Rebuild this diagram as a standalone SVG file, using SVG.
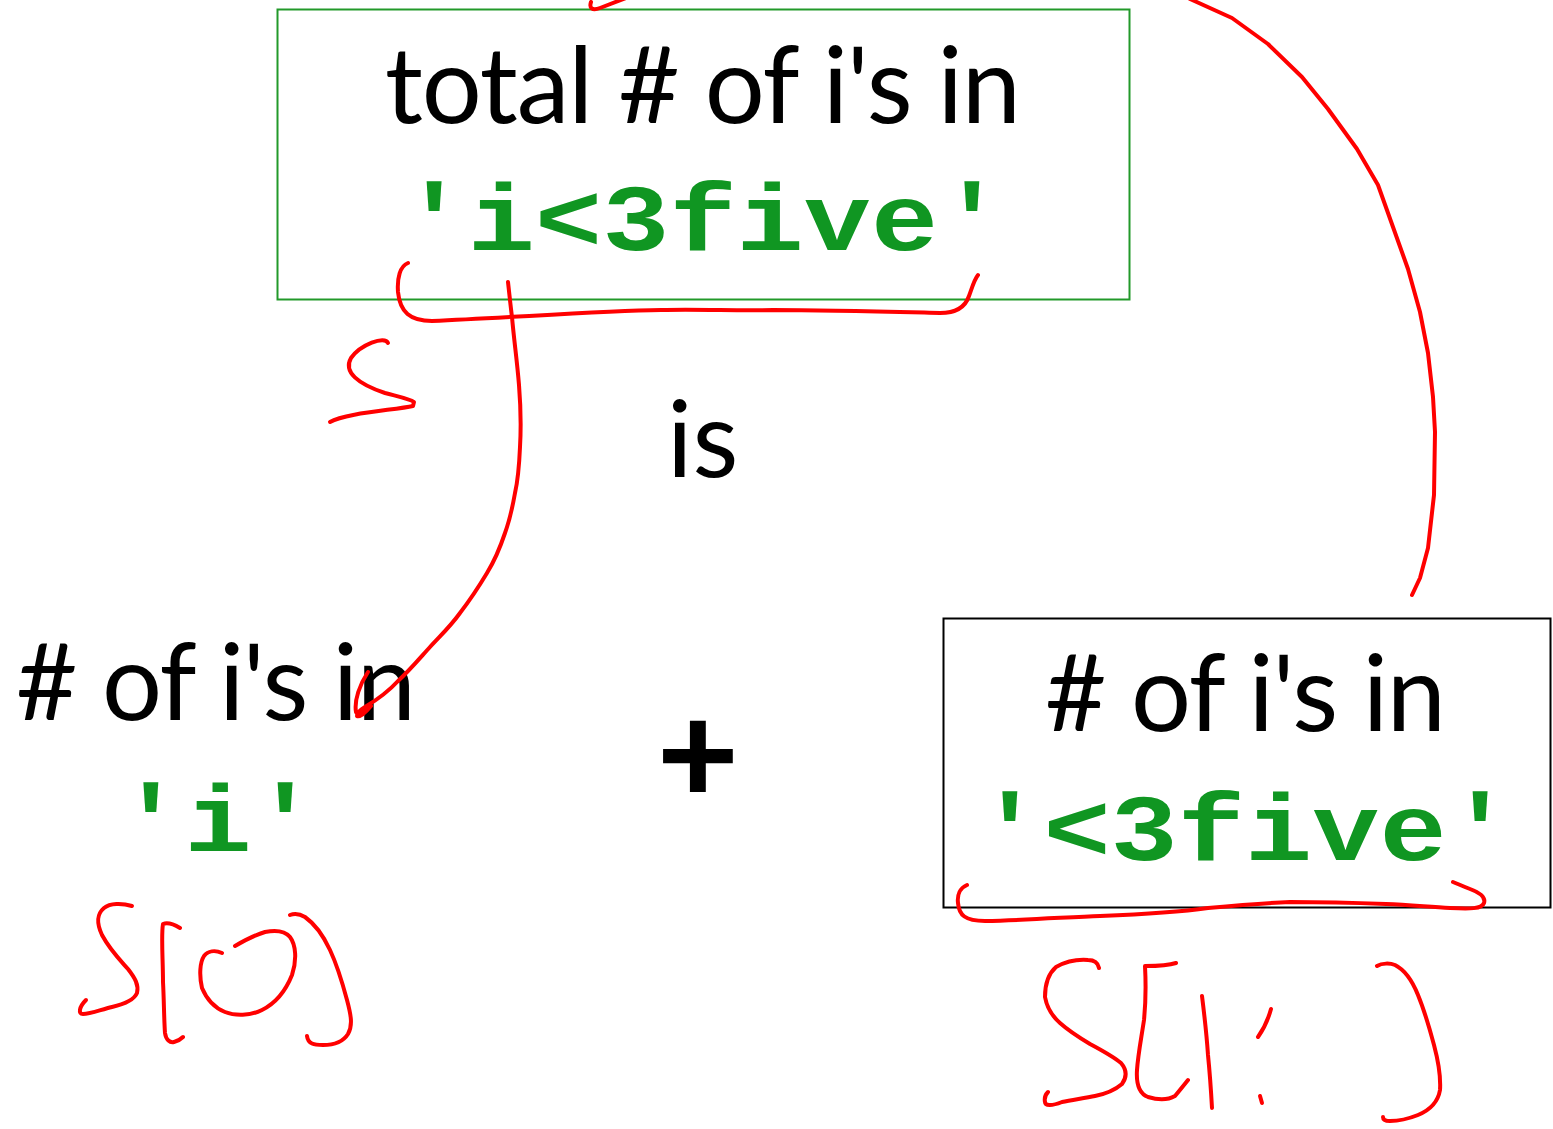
<svg xmlns="http://www.w3.org/2000/svg" width="1553" height="1129" viewBox="0 0 1553 1129">
  <style>
    .sans { font-family: Lato, "Open Sans", "Liberation Sans", sans-serif; fill: #000; }
    .code { font-family: "Liberation Mono", "DejaVu Sans Mono", monospace; font-weight: bold; fill: #109622; }
    .ink { fill: none; stroke: #ff0000; stroke-width: 4; stroke-linecap: round; stroke-linejoin: round; }
  </style>
  <rect width="1553" height="1129" fill="#fff"/>

  <!-- whole string -->
  <g id="total">
    <rect x="277.5" y="9.5" width="852" height="290" fill="none" stroke="#22992a" stroke-width="2"/>
    <text class="sans" x="385" y="123" font-size="106" textLength="636">total # of i's in</text>
    <g transform="matrix(1,0,0,0.85,0,37.5)">
      <text class="code" x="703" y="250" font-size="112" text-anchor="middle">'i&lt;3five'</text>
    </g>
  </g>

  <g id="is">
    <text class="sans" x="667" y="477" font-size="106">is</text>
  </g>

  <!-- first character -->
  <g id="first">
    <text class="sans" x="16" y="720" font-size="106" textLength="400">#&#160;of i's in</text>
    <g transform="matrix(1,0,0,0.85,0,127.65)">
      <text class="code" x="218" y="851" font-size="112" text-anchor="middle">'i'</text>
    </g>
  </g>

  <g id="plus">
    <text class="sans" x="698" y="804" font-size="142" font-weight="900" text-anchor="middle">+</text>
  </g>

  <!-- rest of the string -->
  <g id="rest">
    <rect x="943.5" y="618.5" width="607" height="289" fill="none" stroke="#000" stroke-width="2"/>
    <text class="sans" x="1045" y="731" font-size="106" textLength="401">#&#160;of i's in</text>
    <g transform="matrix(1,0,0,0.85,0,129)">
      <text class="code" x="1245" y="860" font-size="112" text-anchor="middle">'&lt;3five'</text>
    </g>
  </g>

  <!-- handwritten annotations -->
  <g id="connectors">
    <path class="ink" d="M591,2 C589,8 592,11 600,8 L626,-2"/>
    <!-- brace under i<3five -->
    <path class="ink" d="M408,263 C400,266 397,278 398,292 C400,312 410,321 432,321 C520,317 600,311 661,310 C700,309 740,311 773,310 C830,310 900,312 940,313 C958,313 966,305 969,296 C972,288 974,280 978,275"/>
    <!-- s -->
    <path class="ink" d="M388,343 C385,335 360,345 351,358 C343,372 358,384 385,393 C400,397 410,399 414,402 L413,406 C395,410 345,413 330,422"/>
    <!-- from s[0] down to the first piece -->
    <path class="ink" d="M508,282 C510,300 511,310 512,317 C514,340 517,360 519,385 C521,410 521,430 520,447 C519,470 518,480 515,493 C512,510 509,522 505,533 C500,548 495,560 487,573 C478,588 470,600 460,613 C450,627 440,636 430,647 C420,658 410,670 398,681 C388,692 375,701 365,707 C360,710 357,714 357,716 C360,718 366,712 371,706 C366,712 358,718 356,712 C354,700 360,684 368,672"/>
    <!-- big arc to the rest -->
    <polyline class="ink" points="1190,-1 1232,18 1268,44 1302,77 1328,109 1357,149 1378,185 1408,269 1420,312 1428,353 1433,397 1435,432 1434,495 1428,548 1420,578 1412,595"/>
    <!-- brace under <3five -->
    <path class="ink" d="M967,885 C960,888 957,895 958,903 C959,915 965,921 985,921 C1030,920 1070,917 1100,916 C1150,914 1180,912 1208,908 C1240,905 1265,903 1290,902 C1330,902 1360,903 1386,904 C1410,905 1430,907 1450,908 C1470,909 1482,909 1484,903 C1486,897 1478,892 1470,889 C1462,886 1458,884 1453,882"/>
    <!-- S[0] -->
    <path class="ink" d="M132,906 C122,903 110,903 104,908 C97,914 96,922 102,935 C110,950 120,960 128,969 C135,978 139,985 137,993 C134,1000 125,1004 112,1007 C100,1010 90,1014 83,1014 C78,1014 79,1007 86,1000"/>
    <path class="ink" d="M180,928 C175,925 168,922 163,924 C161,935 163,960 163,982 C164,1000 164,1020 165,1033 C166,1040 170,1043 174,1042 C178,1041 181,1039 183,1037"/>
    <path class="ink" d="M222,953 C215,950 208,951 204,956 C200,962 199,975 202,988 C207,1000 215,1008 225,1012 C235,1016 250,1016 262,1010 C276,1003 286,990 292,975 C297,960 296,945 290,937 C285,931 275,930 265,932 C255,935 245,940 235,946"/>
    <path class="ink" d="M290,915 C295,913 300,914 305,917 C315,924 323,935 330,950 C337,965 343,985 347,1000 C351,1015 353,1025 348,1034 C343,1042 335,1045 323,1045 C314,1045 308,1044 307,1036"/>
    <!-- S[1:] -->
    <path class="ink" d="M1099,968 C1098,963 1095,960 1088,960 C1075,959 1065,962 1056,967 C1048,974 1045,985 1045,997 C1047,1008 1052,1016 1060,1023 C1070,1032 1080,1038 1090,1044 C1105,1052 1115,1058 1121,1063 C1127,1070 1127,1077 1122,1084 C1115,1090 1105,1094 1095,1096 C1085,1098 1072,1100 1062,1102 C1052,1106 1045,1106 1045,1102 C1044,1097 1046,1094 1048,1092"/>
    <path class="ink" d="M1176,963 C1170,965 1160,966 1145,966 C1146,985 1146,1000 1144,1020 C1141,1040 1138,1055 1137,1070 C1136,1085 1140,1094 1148,1097 C1158,1100 1168,1100 1175,1096 C1180,1090 1184,1085 1188,1080"/>
    <path class="ink" d="M1202,996 C1205,1020 1207,1040 1208,1055 C1210,1075 1211,1090 1212,1108"/>
    <path class="ink" d="M1271,1009 C1268,1020 1263,1030 1258,1037"/>
    <path class="ink" d="M1260,1096 L1262,1103"/>
    <path class="ink" d="M1377,966 C1382,963 1390,963 1395,965 C1405,970 1412,980 1418,995 C1425,1012 1430,1030 1434,1045 C1438,1060 1441,1075 1440,1090 C1438,1102 1430,1110 1418,1115 C1408,1119 1398,1121 1390,1121 C1385,1121 1383,1119 1383,1117"/>
  </g>
</svg>
